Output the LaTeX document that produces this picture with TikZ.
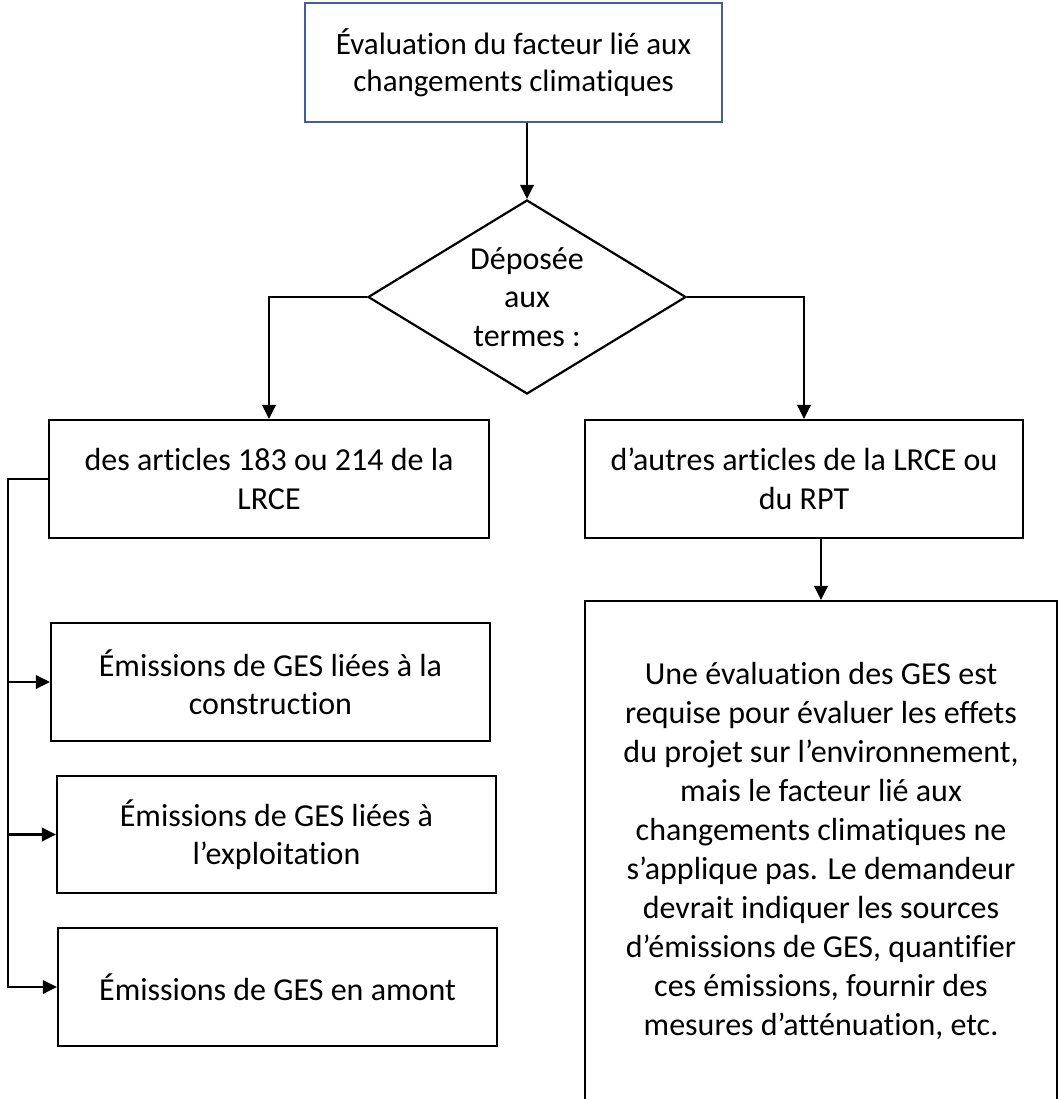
\documentclass[tikz,border=0pt]{standalone}
\usepackage{fontspec}
\setmainfont{Carlito}[Ligatures=NoCommon]
\usetikzlibrary{arrows.meta,shapes.geometric}
\definecolor{boxblue}{RGB}{65,95,160}
\tikzset{
  box/.style={draw=black, line width=2.2pt, rectangle, align=center, inner sep=0pt,
    font=\fontsize{32}{38.5}\selectfont},
  arr/.style={line width=2.2pt, -{Triangle[length=14pt,width=13.5pt]}},
}
\begin{document}
\begin{tikzpicture}[x=1pt,y=-1pt]
\useasboundingbox (0,0) rectangle (1058,1099);
\node[box, draw=boxblue, line width=2pt, minimum width=417pt, minimum height=119pt,
  font=\fontsize{31}{37}\selectfont] (top) at (513.5,62.5)
  {Évaluation du facteur lié aux\\changements climatiques};
\node[draw=black, line width=2.2pt, shape=diamond, aspect=1.64, inner sep=0pt,
  minimum width=318pt, minimum height=194pt, align=center,
  font=\fontsize{32}{38.5}\selectfont] (dia) at (527,297)
  {Déposée\\aux\\termes :};
\node[box, minimum width=440pt, minimum height=118pt] (lbox) at (269,479)
  {des articles 183 ou 214 de la\\LRCE};
\node[box, minimum width=438pt, minimum height=118pt] (rbox) at (804,479)
  {d’autres articles de la LRCE ou\\du RPT};
\node[box, minimum width=472pt, minimum height=500pt,
  font=\fontsize{32}{39}\selectfont] (big) at (821,851)
  {Une évaluation des GES est\\requise pour évaluer les effets\\du projet sur l’environnement,\\mais le facteur lié aux\\changements climatiques ne\\s’applique pas. Le demandeur\\devrait indiquer les sources\\d’émissions de GES, quantifier\\ces émissions, fournir des\\mesures d’atténuation, etc.};
\node[box, minimum width=439pt, minimum height=118pt] (e1) at (270.5,682)
  {Émissions de GES liées à la\\construction};
\node[box, minimum width=439pt, minimum height=117pt] (e2) at (276.5,834.5)
  {Émissions de GES liées à\\l’exploitation};
\node[box, minimum width=439pt, minimum height=118pt] (e3) at (277.5,987)
  {Émissions de GES en amont};
\coordinate (bx) at (8,0);
\draw[arr] (top.south -| dia.north) -- (dia.north);
\draw[arr] (dia.west) -| (lbox.north);
\draw[arr] (dia.east) -| (rbox.north);
\draw[arr] (rbox.south -| big.north) -- (big.north);
\draw[arr] (lbox.west) -- (lbox.west -| bx) |- (e3.west);
\draw[arr] (e1.west -| bx) -- (e1.west);
\draw[arr] (e2.west -| bx) -- (e2.west);
\end{tikzpicture}
\end{document}
